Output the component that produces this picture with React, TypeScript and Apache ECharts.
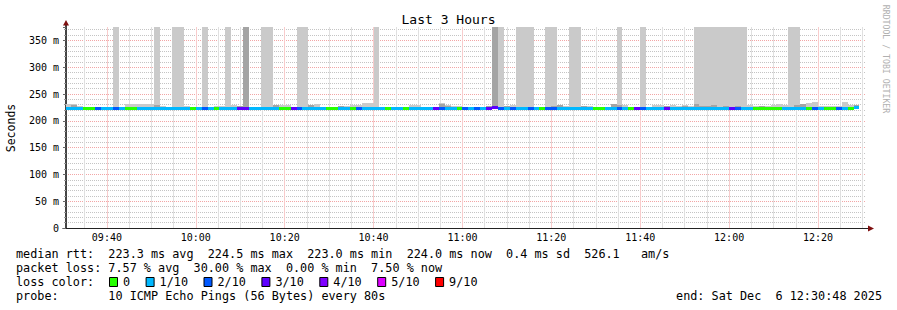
import React, { useEffect, useRef } from 'react';
import * as echarts from 'echarts';

// ---- Data -------------------------------------------------------------
const TITLE = 'Last 3 Hours';
const Y_NAME = 'Seconds';
const AXIS_START = '09:30:48';
const AXIS_END = '12:30:48';
const FIRST_STEP_START = '09:30:40';
const STEP_SECONDS = 80;
const Y_MAX_MS = 375;

const MAJOR_TICKS = ['09:40', '10:00', '10:20', '10:40', '11:00', '11:20', '11:40', '12:00', '12:20'];

// lost pings (out of 10) per 80 s step
const lossCount = [
  1, 1, 1, 0, 0, 2, 1, 1, 2, 1,
  0, 0, 1, 1, 1, 1, 1, 1, 1, 1,
  1, 0, 1, 2, 1, 0, 1, 1, 1, 3,
  3, 1, 1, 1, 1, 1, 0, 0, 3, 2,
  1, 1, 1, 1, 0, 0, 1, 1, 0, 2,
  1, 1, 1, 1, 0, 1, 1, 0, 1, 1,
  1, 1, 3, 2, 1, 1, 0, 2, 1, 2,
  1, 3, 3, 2, 1, 2, 1, 1, 2, 1,
  0, 2, 2, 1, 1, 1, 1, 1, 1, 0,
  0, 1, 1, 2, 1, 0, 3, 2, 1, 1,
  1, 3, 1, 1, 1, 1, 1, 1, 1, 1,
  1, 1, 3, 2, 1, 1, 0, 0, 0, 0,
  0, 1, 1, 1, 1, 0, 2, 1, 0, 0,
  2, 1, 0, 1,
];

// median rtt (ms)
const medianMs = [
  223.4, 223.4, 223.5, 223.3, 223.3, 223.4, 223.4, 222.2, 223.5, 223.4,
  223.3, 223.3, 223.4, 223.4, 223.4, 222.2, 223.4, 223.5, 223.4, 223.4,
  223.5, 223.3, 223.4, 223.6, 223.4, 223.3, 223.4, 223.4, 223.5, 223.6,
  223.7, 223.4, 223.4, 223.5, 223.4, 223.4, 223.3, 223.3, 223.6, 223.5,
  223.4, 223.4, 223.4, 223.4, 223.3, 223.3, 223.4, 223.4, 223.3, 223.5,
  223.4, 223.4, 223.4, 223.4, 223.3, 223.4, 223.4, 223.3, 223.4, 223.4,
  223.4, 223.4, 223.6, 223.5, 223.4, 223.4, 223.3, 223.5, 223.4, 223.5,
  223.4, 223.6, 224.5, 223.5, 223.4, 223.5, 223.4, 223.4, 223.5, 223.4,
  223.3, 223.5, 223.5, 223.4, 223.4, 223.4, 223.4, 223.4, 223.4, 223.3,
  223.3, 223.4, 223.4, 223.5, 223.4, 223.3, 223.6, 223.5, 223.4, 222.2,
  223.4, 223.6, 223.4, 222.2, 223.4, 223.4, 223.4, 222.2, 222.2, 223.4,
  222.2, 223.4, 223.6, 223.5, 223.4, 223.4, 223.3, 222.2, 223.3, 223.3,
  223.3, 223.4, 223.4, 223.4, 223.4, 223.3, 223.5, 223.4, 223.3, 223.3,
  223.5, 223.4, 223.3, 224.0,
];

// fastest ping (ms)
const smokeMinMs = [
  222.3, 222.3, 222.4, 222.2, 222.2, 222.3, 222.3, 221.6, 222.4, 222.3,
  222.2, 222.2, 222.3, 222.3, 222.3, 221.6, 222.3, 222.4, 222.3, 222.3,
  222.4, 222.2, 222.3, 222.5, 222.3, 222.2, 222.3, 222.3, 222.4, 222.5,
  222.6, 222.3, 222.3, 222.4, 222.3, 222.3, 222.2, 222.2, 222.5, 222.4,
  222.3, 222.3, 222.3, 222.3, 222.2, 222.2, 222.3, 222.3, 222.2, 222.4,
  222.3, 222.3, 222.3, 222.3, 222.2, 222.3, 222.3, 222.2, 222.3, 222.3,
  222.3, 222.3, 222.5, 222.4, 222.3, 222.3, 222.2, 222.4, 222.3, 222.4,
  222.3, 222.5, 223.0, 222.4, 222.3, 222.4, 222.3, 222.3, 222.4, 222.3,
  222.2, 222.4, 222.4, 222.3, 222.3, 222.3, 222.3, 222.3, 222.3, 222.2,
  222.2, 222.3, 222.3, 222.4, 222.3, 222.2, 222.5, 222.4, 222.3, 221.6,
  222.3, 222.5, 222.3, 221.6, 222.3, 222.3, 222.3, 221.6, 221.6, 222.3,
  221.6, 222.3, 222.5, 222.4, 222.3, 222.3, 222.2, 221.6, 222.2, 222.2,
  222.2, 222.3, 222.3, 222.3, 222.3, 222.2, 222.4, 222.3, 222.2, 222.2,
  222.4, 222.3, 222.2, 222.9,
];

// inner smoke band top (ms); 400 = off the top of the chart
const smokeMidMs = [
  226, 228.8, 225.5, 225, 225, 225, 225, 225, 226, 225,
  226, 226, 226, 226, 226, 229, 225, 225, 226, 226,
  225, 225, 225, 226, 225, 225, 225, 226, 225.5, 228,
  400, 225, 225, 226, 226, 229, 225.5, 225.5, 225, 226,
  226, 230, 226, 225, 225, 225, 228, 226, 226, 226,
  226, 226, 226, 225, 225, 225, 225, 225, 226, 226,
  225, 225, 225, 232, 228, 226, 226, 225, 225, 225,
  225, 228, 400, 226, 228, 226, 226, 226, 226, 225,
  225, 226, 228, 230, 225, 226, 226, 228, 226, 225,
  225, 225, 231.7, 230, 226, 225, 225, 226, 225, 226,
  226, 228, 226, 226, 228, 226, 232, 228, 227, 229,
  226, 227, 226, 227, 226, 226, 226, 227.5, 226, 226,
  226, 226, 226, 230, 231, 226, 226, 225, 225, 225,
  225, 226, 226, 230,
];

// slowest ping (ms); 400 = off the top of the chart
const smokeMaxMs = [
  231.3, 231, 228.3, 226, 226, 226, 226, 226, 400, 226,
  232, 232, 232, 232, 232, 400, 227, 226, 400, 400,
  227, 226, 226, 400, 226, 228, 228, 400, 229, 228,
  400, 226, 226, 400, 400, 229, 229, 229, 226, 400,
  400, 230, 231, 226, 226, 226, 228, 228, 229.5, 229.5,
  232.5, 232.5, 400, 226, 226, 226, 226, 226, 229.5, 229.5,
  226, 226, 226, 233, 230, 228, 228, 226, 226, 226,
  226, 228, 400, 400, 228, 229.5, 400, 400, 400, 226,
  226, 400, 400, 230, 227, 400, 400, 228, 227, 226,
  226, 226, 232, 400, 229, 226, 226, 400, 226, 229,
  229, 228.5, 229, 228.5, 229, 228, 400, 400, 400, 400,
  400, 400, 400, 400, 400, 229, 228, 228, 227, 230,
  231, 229, 400, 400, 231, 233, 236, 227, 227, 227,
  227, 236, 230, 230,
];

const LOSS_LEGEND_LABELS = ['0', '1/10', '2/10', '3/10', '4/10', '5/10', '9/10'];
const LOSS_LEGEND_COLORS = ['#26ff00', '#00b8ff', '#0059ff', '#5e00ff', '#7e00ff', '#dd00ff', '#ff0000'];
const LOSS_LEGEND_COUNTS = [0, 1, 2, 3, 4, 5, 9];

const STAT_LINE_RTT = 'median rtt:  223.3 ms avg  224.5 ms max  223.0 ms min  224.0 ms now  0.4 ms sd  526.1   am/s';
const STAT_LINE_LOSS = 'packet loss: 7.57 % avg  30.00 % max  0.00 % min  7.50 % now';
const LOSS_COLOR_CAPTION = 'loss color:';
const PROBE_LINE = 'probe:       10 ICMP Echo Pings (56 Bytes) every 80s';
const END_LINE = 'end: Sat Dec  6 12:30:48 2025';
const WATERMARK = 'RRDTOOL / TOBI OETIKER';

// ---- Helpers ----------------------------------------------------------
const toMin = (s: string) => {
  const p = s.split(':').map(Number);
  return p[0] * 60 + p[1] + (p[2] || 0) / 60;
};
const fmtHM = (v: number) => {
  const m = Math.round(v);
  const h = Math.floor(m / 60);
  const mm = m % 60;
  return `${h < 10 ? '0' : ''}${h}:${mm < 10 ? '0' : ''}${mm}`;
};

const lossColor = (n: number) => {
  let c = LOSS_LEGEND_COLORS[0];
  for (let i = 0; i < LOSS_LEGEND_COUNTS.length; i++) {
    if (n >= LOSS_LEGEND_COUNTS[i]) c = LOSS_LEGEND_COLORS[i];
  }
  return c;
};

const MONO = '"DejaVu Sans Mono", "Liberation Mono", monospace';
const MAJOR_GRID = '#f2a6a6';
const MINOR_GRID = '#c4c4c4';
const MAJOR_GRID_V = '#f8cccc';
const MINOR_GRID_V = '#e0e0e0';

export default function App() {
  const ref = useRef<HTMLDivElement>(null);

  useEffect(() => {
    if (!ref.current) return;
    const chart = echarts.init(ref.current, null, { renderer: 'svg' });

    const stepMin = STEP_SECONDS / 60;
    const firstStart = toMin(FIRST_STEP_START);
    const smokeData = smokeMaxMs.map((hi, i) => [
      firstStart + i * stepMin,
      firstStart + (i + 1) * stepMin,
      smokeMinMs[i],
      smokeMidMs[i],
      hi,
    ]);
    const medianData = medianMs.map((m, i) => [
      firstStart + i * stepMin,
      firstStart + (i + 1) * stepMin,
      m,
      lossCount[i],
    ]);
    const majorVals = MAJOR_TICKS.map(toMin);

    const clipRect = (r: any, cs: any) =>
      echarts.graphic.clipRectByRect(r, { x: cs.x, y: cs.y, width: cs.width, height: cs.height });

    const smokeRender = (params: any, api: any) => {
      const cs = params.coordSys;
      const t0 = api.value(0);
      const t1 = api.value(1);
      const lo = api.value(2);
      const mid = api.value(3);
      const hi = api.value(4);
      const x0 = Math.round(api.coord([t0, lo])[0]);
      const x1 = Math.round(api.coord([t1, lo])[0]);
      const yLo = Math.round(api.coord([t0, lo])[1]);
      const yMid = Math.round(api.coord([t0, mid])[1]);
      const yHi = Math.round(api.coord([t0, hi])[1]);
      const children: any[] = [];
      const outer = clipRect({ x: x0, y: yHi, width: x1 - x0, height: yLo - yHi }, cs);
      if (outer) children.push({ type: 'rect', shape: outer, style: { fill: '#cacaca' } });
      const inner = clipRect({ x: x0, y: yMid, width: x1 - x0, height: yLo - yMid }, cs);
      if (inner) children.push({ type: 'rect', shape: inner, style: { fill: '#a4a4a4' } });
      return { type: 'group', children };
    };

    const medianRender = (params: any, api: any) => {
      const cs = params.coordSys;
      const p0 = api.coord([api.value(0), api.value(2)]);
      const p1 = api.coord([api.value(1), api.value(2)]);
      const x0 = Math.round(p0[0]);
      const x1 = Math.round(p1[0]);
      const y = Math.round(p0[1] - 1.5);
      const r = clipRect({ x: x0, y, width: x1 - x0, height: 3 }, cs);
      if (!r) return null;
      return { type: 'rect', shape: r, style: { fill: lossColor(api.value(3)) } };
    };

    // legend boxes on the "loss color" line
    const legendEls: any[] = [];
    let bx = 109;
    LOSS_LEGEND_LABELS.forEach((lab, i) => {
      legendEls.push({
        type: 'rect',
        shape: { x: bx + 0.5, y: 277.5, width: 8, height: 9 },
        style: { fill: LOSS_LEGEND_COLORS[i], stroke: '#000', lineWidth: 1 },
      });
      legendEls.push({
        type: 'text',
        x: bx + 14,
        y: 282,
        style: { text: lab, fontFamily: MONO, fontSize: 11.8, fill: '#000', align: 'left', verticalAlign: 'middle' },
      });
      bx = bx + 14 + lab.length * 7.1 + 15.5;
    });

    const textLine = (text: string, y: number) => ({
      type: 'text',
      x: 16,
      y,
      style: { text, fontFamily: MONO, fontSize: 11.8, fill: '#000', align: 'left', verticalAlign: 'middle' },
    });

    const option: any = {
      animation: false,
      backgroundColor: '#ffffff',
      grid: { left: 66, right: 31, top: 27, bottom: 82, containLabel: false },
      xAxis: {
        type: 'value',
        min: toMin(AXIS_START),
        max: toMin(AXIS_END),
        splitNumber: 9,
        minInterval: 20,
        maxInterval: 20,
        axisLine: { show: true, onZero: false, lineStyle: { color: '#222', width: 1 } },
        axisTick: { show: false },
        axisLabel: {
          customValues: majorVals,
          formatter: (v: number) => fmtHM(v),
          color: '#000',
          fontFamily: MONO,
          fontSize: 10,
          margin: 4,
        },
        splitLine: {
          show: true,
          showMinLine: false,
          showMaxLine: false,
          lineStyle: { color: MAJOR_GRID_V, width: 1, type: 'solid' },
        },
        minorTick: { show: false, splitNumber: 4 },
        minorSplitLine: { show: true, lineStyle: { color: MINOR_GRID_V, width: 1, type: 'solid' } },
      },
      yAxis: {
        type: 'value',
        min: 0,
        max: Y_MAX_MS,
        interval: 50,
        axisLine: { show: true, lineStyle: { color: '#444', width: 2 } },
        axisTick: { show: true, length: 3, lineStyle: { color: '#666' } },
        axisLabel: {
          formatter: (v: number) => (v === 0 ? '0' : `${v} m`),
          showMaxLabel: false,
          color: '#000',
          fontFamily: MONO,
          fontSize: 10,
          margin: 7,
        },
        splitLine: {
          show: true,
          showMaxLine: false,
          showMinLine: false,
          lineStyle: { color: MAJOR_GRID, width: 1, type: [1, 1] },
        },
        minorTick: { show: true, splitNumber: 5, length: 2, lineStyle: { color: '#999' } },
        minorSplitLine: { show: true, lineStyle: { color: MINOR_GRID, width: 1, type: [1, 1] } },
      },
      series: [
        {
          type: 'custom',
          name: 'smoke',
          z: 2,
          silent: true,
          renderItem: smokeRender,
          encode: { x: [0, 1], y: [2, 4] },
          data: smokeData,
        },
        {
          type: 'custom',
          name: 'median rtt',
          z: 3,
          silent: true,
          renderItem: medianRender,
          encode: { x: [0, 1], y: 2 },
          data: medianData,
        },
      ],
      graphic: [
        {
          type: 'text',
          x: 448.5,
          y: 19.5,
          style: { text: TITLE, fontFamily: MONO, fontSize: 13, fill: '#000', align: 'center', verticalAlign: 'middle' },
        },
        {
          type: 'text',
          x: 11,
          y: 128,
          rotation: Math.PI / 2,
          style: { text: Y_NAME, fontFamily: MONO, fontSize: 11.5, fill: '#000', align: 'center', verticalAlign: 'middle' },
        },
        {
          type: 'text',
          x: 886,
          y: 59,
          rotation: -Math.PI / 2,
          style: { text: WATERMARK, fontFamily: MONO, fontSize: 8.2, fill: '#b0b0b0', align: 'center', verticalAlign: 'middle' },
        },
        // axis extensions and arrows
        { type: 'line', shape: { x1: 62.5, y1: 228.5, x2: 66, y2: 228.5 }, style: { stroke: '#222', lineWidth: 1 } },
        { type: 'line', shape: { x1: 866, y1: 228.5, x2: 869, y2: 228.5 }, style: { stroke: '#222', lineWidth: 1 } },
        { type: 'line', shape: { x1: 66, y1: 27, x2: 66, y2: 23 }, style: { stroke: '#444', lineWidth: 2 } },
        { type: 'polygon', shape: { points: [[63, 25.5], [69, 25.5], [66, 20]] }, style: { fill: '#7f1010' } },
        { type: 'polygon', shape: { points: [[868, 225.5], [868, 231.5], [874, 228.5]] }, style: { fill: '#7f1010' } },
        textLine(STAT_LINE_RTT, 254),
        textLine(STAT_LINE_LOSS, 268),
        textLine(LOSS_COLOR_CAPTION, 282),
        ...legendEls,
        textLine(PROBE_LINE, 296),
        {
          type: 'text',
          x: 882,
          y: 296,
          style: { text: END_LINE, fontFamily: MONO, fontSize: 11.8, fill: '#000', align: 'right', verticalAlign: 'middle' },
        },
      ],
    };

    chart.setOption(option);
    return () => chart.dispose();
  }, []);

  return (
    <div
      ref={ref}
      style={{ position: 'absolute', left: 0, top: 0, width: 897, height: 310, background: '#ffffff' }}
    />
  );
}
